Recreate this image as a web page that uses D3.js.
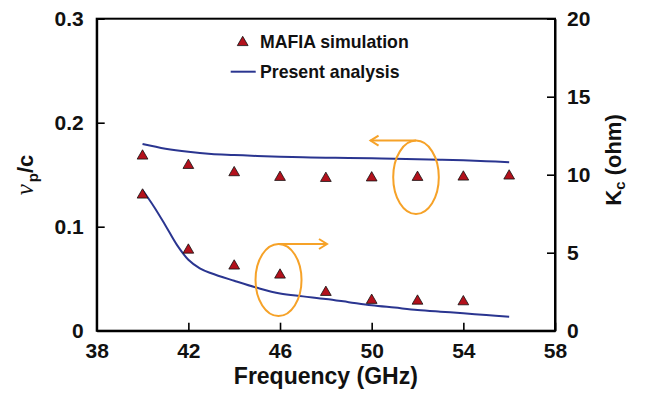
<!DOCTYPE html>
<html>
<head>
<meta charset="utf-8">
<script src="https://cdn.jsdelivr.net/npm/d3@7"></script>
<style>
  html, body { margin: 0; padding: 0; background: #fff; }
  svg { display: block; }
  text { font-family: "Liberation Sans", Arial, sans-serif; font-weight: bold; fill: #111; }
</style>
</head>
<body>
<svg id="chart" width="646" height="401"></svg>
<script>
// ---- data ----
const freqSim = [40, 42, 44, 46, 48, 50, 52, 54, 56];
const vpSim   = [0.168, 0.159, 0.152, 0.1475, 0.1465, 0.147, 0.1475, 0.1478, 0.1488];
const kcSimFreq = [40, 42, 44, 46, 48, 50, 52, 54];
const kcSim   = [8.7, 5.17, 4.15, 3.57, 2.46, 1.95, 1.9, 1.86];

const vpLineFreq = [40, 41, 42, 43, 44, 45, 46, 47, 48, 49, 50, 51, 52, 53, 54, 55, 56];
const vpLine     = [0.1795, 0.175, 0.172, 0.170, 0.169, 0.168, 0.1673, 0.1668, 0.1664, 0.1661, 0.1658, 0.1653, 0.1648, 0.1643, 0.1638, 0.1630, 0.1620];
const kcLineFreq = [40, 40.5, 41, 41.5, 42, 42.5, 43, 44, 45, 46, 47, 48, 49, 50, 51, 52, 53, 54, 55, 56];
const kcLine     = [9.02, 7.95, 6.75, 5.5, 4.55, 4.0, 3.68, 3.2, 2.75, 2.38, 2.2, 2.03, 1.83, 1.63, 1.48, 1.33, 1.22, 1.12, 1.0, 0.9];

const xTicks = [38, 42, 46, 50, 54, 58];
const yLeftTicks = [0, 0.1, 0.2, 0.3];
const yRightTicks = [0, 5, 10, 15, 20];
const legendLabels = ["MAFIA simulation", "Present analysis"];

// ---- layout ----
const svg = d3.select("#chart");
const L = 96.7, R = 555, T = 18.7, B = 330.7;
const x = d3.scaleLinear().domain([38, 58]).range([L, R]);
const yL = d3.scaleLinear().domain([0, 0.3]).range([B, T]);
const yR = d3.scaleLinear().domain([0, 20]).range([B, T]);

const navy = "#2a3590", red = "#b3111c", orange = "#f6a228";

// frame
svg.append("rect").attr("x", L).attr("y", T).attr("width", R - L).attr("height", B - T)
  .attr("fill", "none").attr("stroke", "#000").attr("stroke-width", 2);

// axes (ticks inward)
const tickLen = 8;
const gx = svg.append("g").attr("transform", `translate(0,${B})`)
  .call(d3.axisBottom(x).tickValues(xTicks).tickSizeInner(-tickLen).tickSizeOuter(0).tickPadding(12).tickFormat(d3.format("d")));
const gyl = svg.append("g").attr("transform", `translate(${L},0)`)
  .call(d3.axisLeft(yL).tickValues(yLeftTicks).tickSizeInner(-tickLen).tickSizeOuter(0).tickPadding(13)
    .tickFormat(d => d === 0 ? "0" : d.toFixed(1)));
const gyr = svg.append("g").attr("transform", `translate(${R},0)`)
  .call(d3.axisRight(yR).tickValues(yRightTicks).tickSizeInner(-tickLen).tickSizeOuter(0).tickPadding(12).tickFormat(d3.format("d")));

[gx, gyl, gyr].forEach(g => {
  g.select(".domain").attr("stroke", "#000").attr("stroke-width", 2);
  g.selectAll(".tick line").attr("stroke", "#000").attr("stroke-width", 1.6);
  g.selectAll(".tick text").attr("font-size", 21).attr("font-family", "Liberation Sans, Arial, sans-serif")
    .attr("font-weight", "bold").attr("fill", "#111");
});
gx.selectAll(".tick text").attr("dy", "0.75em");

// axis titles
svg.append("text").attr("x", (L + R) / 2).attr("y", 384).attr("text-anchor", "middle")
  .attr("font-size", 23).text("Frequency (GHz)");

const yt = svg.append("text").attr("transform", "translate(33,175) rotate(-90)").attr("text-anchor", "middle")
  .attr("font-size", 22);
yt.append("tspan").attr("font-family", "Liberation Serif, Times New Roman, serif").attr("font-style", "italic")
  .attr("font-weight", "normal").attr("font-size", 25).text("ν");
yt.append("tspan").attr("font-size", 15).attr("dy", 5).attr("dx", 2).text("p");
yt.append("tspan").attr("dy", -5).text("/c");

const rt = svg.append("text").attr("transform", "translate(621,160) rotate(-90)").attr("text-anchor", "middle")
  .attr("font-size", 22);
rt.append("tspan").text("K");
rt.append("tspan").attr("font-size", 15).attr("dy", 4).text("c");
rt.append("tspan").attr("dy", -4).text(" (ohm)");

// lines
const lineL = d3.line().x((d, i) => x(vpLineFreq[i])).y(d => yL(d)).curve(d3.curveCatmullRom);
const lineR = d3.line().x((d, i) => x(kcLineFreq[i])).y(d => yR(d)).curve(d3.curveCatmullRom);
svg.append("path").attr("d", lineL(vpLine)).attr("fill", "none").attr("stroke", navy).attr("stroke-width", 2);
svg.append("path").attr("d", lineR(kcLine)).attr("fill", "none").attr("stroke", navy).attr("stroke-width", 2);

// markers
const tri = d3.symbol().type(d3.symbolTriangle).size(50);
svg.selectAll(".mv").data(vpSim).join("path")
  .attr("transform", (d, i) => `translate(${x(freqSim[i])},${yL(d)})`)
  .attr("d", tri).attr("fill", red).attr("stroke", "#111").attr("stroke-width", 0.8);
svg.selectAll(".mk").data(kcSim).join("path")
  .attr("transform", (d, i) => `translate(${x(kcSimFreq[i])},${yR(d)})`)
  .attr("d", tri).attr("fill", red).attr("stroke", "#111").attr("stroke-width", 0.8);

// annotations: ellipses with arrows
function annot(cx, cy, rx, ry, x2) {
  svg.append("ellipse").attr("cx", cx).attr("cy", cy).attr("rx", rx).attr("ry", ry)
    .attr("fill", "none").attr("stroke", orange).attr("stroke-width", 2);
  const ay = cy - ry;
  svg.append("line").attr("x1", cx).attr("y1", ay).attr("x2", x2).attr("y2", ay)
    .attr("stroke", orange).attr("stroke-width", 2);
  const dir = x2 < cx ? 1 : -1;
  svg.append("path").attr("d", `M${x2 + dir * 8},${ay - 5}L${x2},${ay}L${x2 + dir * 8},${ay + 5}`)
    .attr("fill", "none").attr("stroke", orange).attr("stroke-width", 2);
}
annot(x(52) - 1.5, yL(0.1475), 22.8, 36.7, x(49.95));
annot(x(46) - 1.5, yR(3.25), 23, 36, x(48.05));

// legend
svg.append("path").attr("transform", "translate(242.7,42.5)").attr("d", tri)
  .attr("fill", red).attr("stroke", "#111").attr("stroke-width", 0.8);
svg.append("text").attr("x", 260).attr("y", 47.5).attr("font-size", 17.7).text(legendLabels[0]);
svg.append("line").attr("x1", 230.7).attr("x2", 255.7).attr("y1", 71.7).attr("y2", 71.7)
  .attr("stroke", navy).attr("stroke-width", 2);
svg.append("text").attr("x", 260).attr("y", 78).attr("font-size", 17.7).text(legendLabels[1]);
</script>
</body>
</html>
